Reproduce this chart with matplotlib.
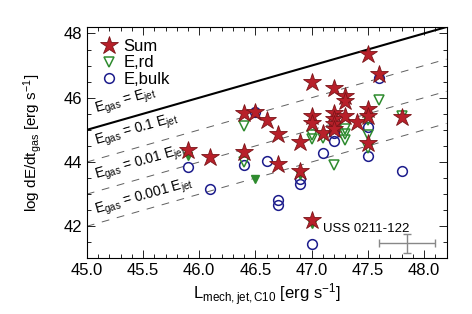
import matplotlib.pyplot as plt
import numpy as np

plt.rcParams['font.family'] = ['Liberation Sans', 'DejaVu Sans']
plt.rcParams['mathtext.fontset'] = 'custom'
plt.rcParams['mathtext.rm'] = 'Liberation Sans'
plt.rcParams['mathtext.it'] = 'Liberation Sans'

# Sum (stars)
sum_x = [45.9, 46.1, 46.4, 46.4, 46.5, 46.6, 46.7, 46.7, 46.9, 46.9,
         47.0, 47.0, 47.0, 47.0, 47.1, 47.2, 47.2, 47.2, 47.2, 47.2,
         47.3, 47.3, 47.3, 47.4, 47.5, 47.5, 47.5, 47.5, 47.6, 47.8]
sum_y = [44.37, 44.16, 44.3, 45.51, 45.56, 45.32, 44.87, 43.94, 44.63, 43.72,
         46.5, 45.44, 45.22, 42.21, 44.9, 46.29, 45.54, 45.33, 45.18, 45.02,
         46.06, 45.9, 45.44, 45.23, 47.36, 45.66, 45.44, 44.6, 46.74, 45.4]

# E,rd (open triangles)
rd_x = [46.4, 46.4, 47.0, 47.0, 47.1, 47.2, 47.3, 47.3, 47.3,
        47.5, 47.5, 47.5, 47.6, 47.8]
rd_y = [44.0, 45.12, 44.85, 44.72, 44.76, 43.92, 45.03, 44.87, 44.68,
        45.3, 44.85, 44.42, 45.92, 45.42]
# E,rd hidden under stars (appear filled)
rdf_x = [45.9, 46.5, 46.9, 47.0]
rdf_y = [44.2, 43.48, 43.6, 42.08]

# E,bulk (open circles)
bulk_x = [45.9, 46.1, 46.4, 46.5, 46.6, 46.7, 46.7, 46.9, 46.9, 47.0,
          47.1, 47.2, 47.2, 47.5, 47.5, 47.6, 47.8]
bulk_y = [43.84, 43.16, 43.92, 45.56, 44.03, 42.82, 42.66, 43.48, 43.33, 41.45,
          44.27, 44.9, 44.65, 45.1, 44.18, 46.62, 43.72]

ratios = [1.0, 0.1, 0.01, 0.001]
ratio_labels = [r'E$_{\rm gas}$ = E$_{\rm jet}$',
                r'E$_{\rm gas}$ = 0.1 E$_{\rm jet}$',
                r'E$_{\rm gas}$ = 0.01 E$_{\rm jet}$',
                r'E$_{\rm gas}$ = 0.001 E$_{\rm jet}$']
label_off = [0.45, 0.45, 0.4, 0.3]

fig = plt.figure(figsize=(4.72, 3.14), dpi=100)
ax = fig.add_axes([0.184, 0.177, 0.762, 0.737])

xl = np.array([45.0, 48.2])
for r, lab, off in zip(ratios, ratio_labels, label_off):
    yl = xl + np.log10(r)
    if r == 1.0:
        ax.plot(xl, yl, color='black', lw=1.5, zorder=1)
    else:
        ax.plot(xl, yl, color='#606060', lw=0.7, dashes=(8, 8), zorder=1)
    ax.text(45.08, 45.08 + np.log10(r) + off, lab, fontsize=10, rotation=16,
            rotation_mode='anchor', ha='left', va='baseline')

ax.plot(bulk_x, bulk_y, 'o', ms=7, mfc='none', mec='#1c1c8c', mew=1.1,
        label='E,bulk', zorder=2)
ax.plot(rd_x, rd_y, 'v', ms=7.5, mfc='none', mec='#2e8b2e', mew=1.1,
        label='E,rd', zorder=3)
ax.plot(rdf_x, rdf_y, 'v', ms=6, mfc='#2e8b2e', mec='#2e8b2e', zorder=3)
ax.plot(sum_x, sum_y, '*', ms=13.5, mfc='#b8202a', mec='#7a1418', mew=0.6,
        label='Sum', zorder=4)

ax.errorbar([47.85], [41.47], xerr=[0.25], yerr=[0.3], color='#888888',
            lw=1, capsize=3)
ax.text(47.1, 41.9, 'USS 0211-122', fontsize=9.5, va='center')

h, l = ax.get_legend_handles_labels()
order = [l.index('Sum'), l.index('E,rd'), l.index('E,bulk')]
ax.legend([h[i] for i in order], [l[i] for i in order], loc='upper left',
          frameon=False, fontsize=12, handletextpad=0.3, labelspacing=0.1,
          borderaxespad=0.3, handlelength=1.2)

ax.set_xlim(45.0, 48.2)
ax.set_ylim(41.0, 48.2)
ax.set_xticks([45.0, 45.5, 46.0, 46.5, 47.0, 47.5, 48.0])
ax.set_xticklabels(['45.0', '45.5', '46.0', '46.5', '47.0', '47.5', '48.0'])
ax.set_xticks(np.arange(45.0, 48.2, 0.1), minor=True)
ax.set_yticks([42, 44, 46, 48])
ax.set_yticks(np.arange(41.0, 48.2, 0.5), minor=True)
ax.tick_params(which='both', direction='in', top=True, right=True,
               labelsize=12, width=0.6)
ax.tick_params(which='major', length=6)
ax.tick_params(which='minor', length=3)
for s in ax.spines.values():
    s.set_linewidth(0.8)

ax.set_xlabel(r'L$_{\rm mech,jet,C10}$ [erg s$^{-1}$]', fontsize=12, labelpad=2)
ax.set_ylabel(r'log dE/dt$_{\rm gas}$ [erg s$^{-1}$]', fontsize=11, labelpad=14)

fig.savefig('out.png', dpi=100)
